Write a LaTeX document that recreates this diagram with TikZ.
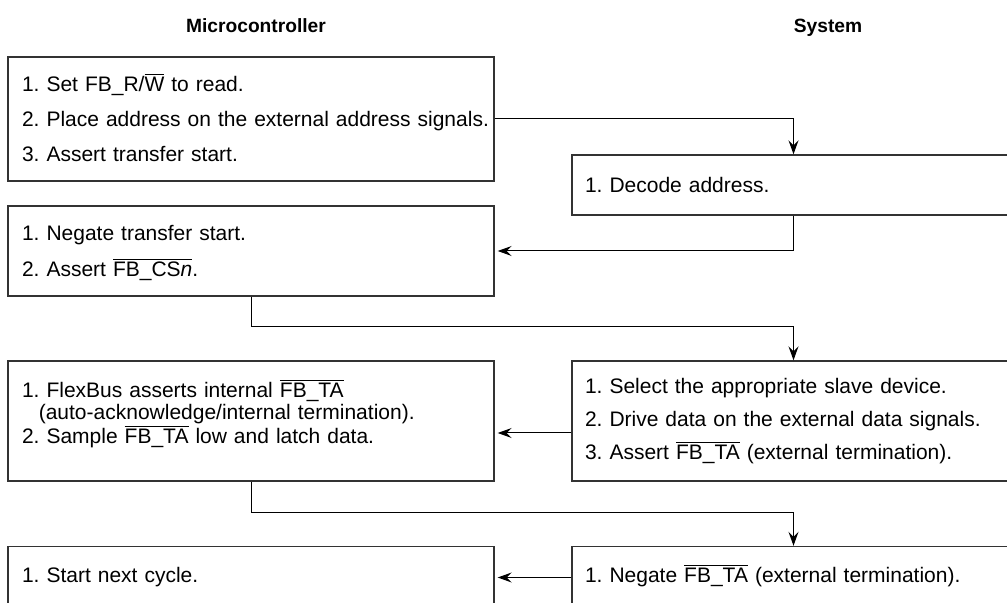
\documentclass[tikz,border=0pt]{standalone}
\usepackage{fontspec}
\setmainfont{Liberation Sans}
\usetikzlibrary{arrows.meta,positioning,calc}
\newcommand{\sigbar}[1]{\smash{$\overline{\mbox{#1}}$}}
\frenchspacing

\begin{document}
\begin{tikzpicture}[
  x=0.5pt, y=-0.5pt,
  font=\fontsize{10.5}{10.5}\selectfont,
  every node/.style={align=left},
  mcubox/.style={rectangle, draw=black!80, line width=0.7pt, inner xsep=7pt, inner ysep=2pt,
                 text width=229pt},
  sysbox/.style={rectangle, draw=black!80, line width=0.7pt, inner xsep=6.5pt, inner ysep=2pt,
                 text width=208.5pt},
  colhead/.style={font=\fontsize{9.6}{12}\selectfont\bfseries, align=center, anchor=base},
  >={Stealth[length=7pt, width=5pt, inset=2.5pt]},
  link/.style={->, line width=0.5pt}
]
\useasboundingbox (0,0) rectangle (1007,603);
\clip (0,0) rectangle (1007,603);

% Column heads
\node[colhead] (mcuhead) at (256, 33) {Microcontroller};
\node[colhead] (syshead) at (828, 33) {System};

% Microcontroller side
\node[mcubox, minimum height=62pt] (m1) at (251, 119)
  {1. Set FB\_R/\sigbar{W} to read.\\[7pt]
   \mbox{2. Place address on the external address signals.}\\[7pt]
   3. Assert transfer start.};
\node[mcubox, minimum height=45pt] (m2) at (251, 251)
  {1. Negate transfer start.\\[7.5pt]
   2. Assert \sigbar{FB\_CS\textit{n}}.};
\node[mcubox, minimum height=60pt] (m3) at (251, 421)
  {1. FlexBus asserts internal \sigbar{FB\_TA}\\[0.5pt]
   \hspace*{0.8em}(auto-acknowledge/internal termination).\\[1.5pt]
   2. Sample \sigbar{FB\_TA} low and latch data.\rule[-8pt]{0pt}{8pt}};
\node[mcubox, minimum height=31pt] (m4) at (251, 577.5)
  {1. Start next cycle.};

% System side
\node[sysbox, minimum height=30pt] (s1) at (793.5, 185)
  {1. Decode address.};
\node[sysbox, minimum height=60pt] (s2) at (793.5, 421)
  {1. Select the appropriate slave device.\\[6pt]
   2. Drive data on the external data signals.\\[6pt]
   3. Assert \sigbar{FB\_TA} (external termination).};
\node[sysbox, minimum height=31pt] (s3) at (793.5, 577.5)
  {1. Negate \sigbar{FB\_TA} (external termination).};

% Edges - to the system
\draw[link] (m1.east) -| (s1.north);
\draw[link] (m2.south) -- ++(0,30) -| (s2.north);
\draw[link] (m3.south) -- ++(0,31) -| (s3.north);

% Edges - back to the microcontroller
\draw[link, shorten >=1.5pt] (s1.south) |- (m2.east);
\draw[link, shorten >=1.5pt] ([yshift=-6pt]s2.west) -- ([yshift=-6pt]s2.west -| m3.east);
\draw[link, shorten >=1.5pt] (s3.west) -- (m4.east);

\end{tikzpicture}
\end{document}
